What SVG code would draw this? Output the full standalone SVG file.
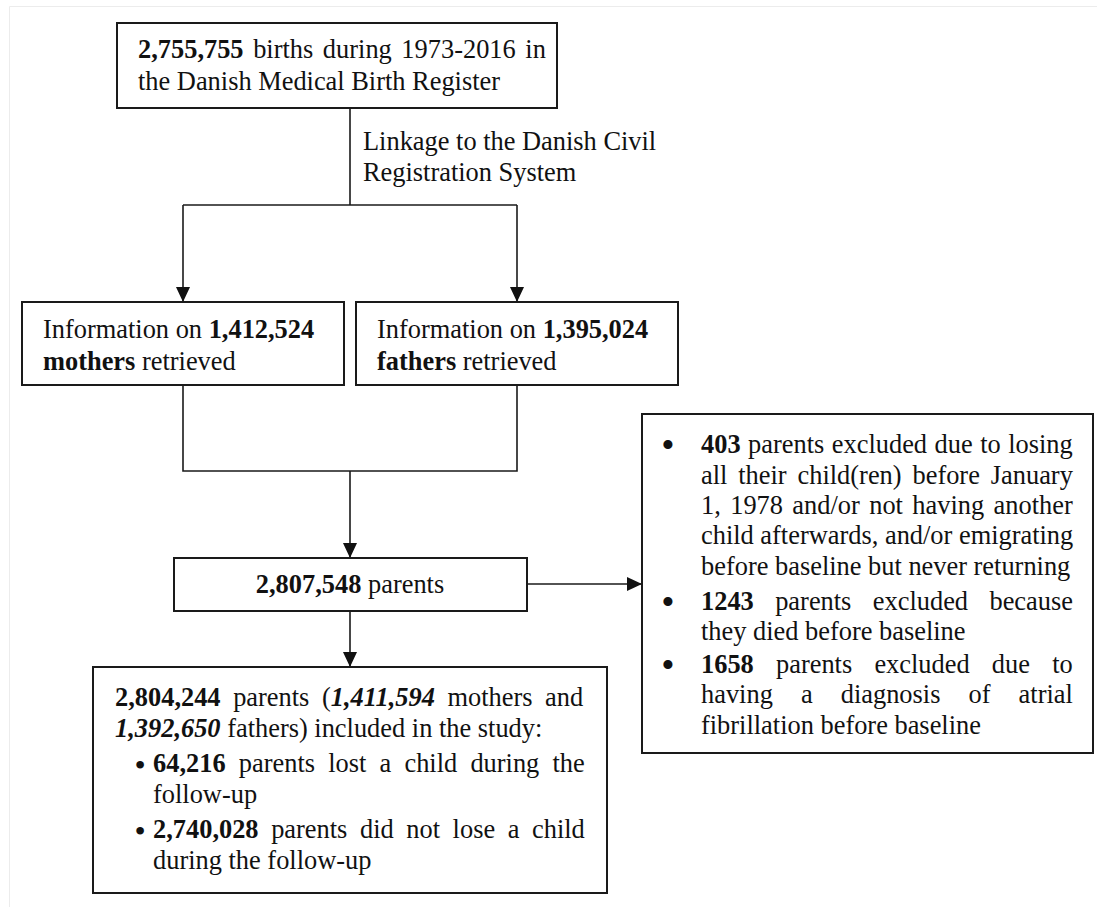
<svg xmlns="http://www.w3.org/2000/svg" width="1097" height="907" viewBox="0 0 1097 907">
<style>
.box{fill:#fff;stroke:#1a1a1a;stroke-width:2}
.t{font-family:"Liberation Serif","Times New Roman",serif;font-size:26.4px;fill:#111}
.b{font-weight:bold}
.bi{font-weight:bold;font-style:italic}
.bul{font-family:"Liberation Serif","Times New Roman",serif;fill:#111;text-anchor:middle}
.conn{stroke:#1a1a1a;stroke-width:1.6;fill:none}
.page{stroke:#ececec;stroke-width:1;fill:none}
</style>
<defs>
<marker id="arr" viewBox="0 0 15 14" refX="15" refY="7" markerWidth="15" markerHeight="14" markerUnits="userSpaceOnUse" orient="auto">
<path d="M0,0 L15,7 L0,14 z" fill="#111"/>
</marker>
</defs>
<rect width="1097" height="907" fill="#fff"/>
<path class="page" d="M9.5,907 V6.5 H1097"/>

<g id="connectors">
<path class="conn" d="M350,108 V205"/>
<path class="conn" d="M183,205 H517"/>
<path class="conn" d="M183,205 V302" marker-end="url(#arr)"/>
<path class="conn" d="M517,205 V302" marker-end="url(#arr)"/>
<path class="conn" d="M183,385 V471 H517 V385"/>
<path class="conn" d="M350,471 V558" marker-end="url(#arr)"/>
<path class="conn" d="M527,584 H642" marker-end="url(#arr)"/>
<path class="conn" d="M350,611 V667" marker-end="url(#arr)"/>
</g>

<g id="births">
<rect class="box" x="117" y="23" width="440" height="85"/>
<text class="t" x="138" y="58" word-spacing="3"><tspan class="b">2,755,755</tspan> births during 1973-2016 in</text>
<text class="t" x="138" y="90">the Danish Medical Birth Register</text>
</g>

<g id="linkage-label">
<text class="t" x="363" y="150">Linkage to the Danish Civil</text>
<text class="t" x="363" y="181">Registration System</text>
</g>

<g id="mothers">
<rect class="box" x="22" y="302" width="322" height="83"/>
<text class="t" x="43" y="338">Information on <tspan class="b">1,412,524</tspan></text>
<text class="t" x="43" y="370"><tspan class="b">mothers</tspan> retrieved</text>
</g>

<g id="fathers">
<rect class="box" x="356" y="302" width="322" height="83"/>
<text class="t" x="377" y="338">Information on <tspan class="b">1,395,024</tspan></text>
<text class="t" x="377" y="370"><tspan class="b">fathers</tspan> retrieved</text>
</g>

<g id="parents">
<rect class="box" x="174" y="558" width="353" height="53"/>
<text class="t" x="350" y="593" text-anchor="middle"><tspan class="b">2,807,548</tspan> parents</text>
</g>

<g id="excluded">
<rect class="box" x="642" y="414" width="451" height="339"/>
<text class="bul" x="668" y="458" font-size="38">•</text>
<text class="t" x="701" y="453" word-spacing="0.9"><tspan class="b">403</tspan> parents excluded due to losing</text>
<text class="t" x="701" y="483.5" word-spacing="4.3">all their child(ren) before January</text>
<text class="t" x="701" y="514" word-spacing="2.8">1, 1978 and/or not having another</text>
<text class="t" x="701" y="544">child afterwards, and/or emigrating</text>
<text class="t" x="701" y="575">before baseline but never returning</text>
<text class="bul" x="668" y="615" font-size="38">•</text>
<text class="t" x="701" y="610" word-spacing="14.8"><tspan class="b">1243</tspan> parents excluded because</text>
<text class="t" x="701" y="640">they died before baseline</text>
<text class="bul" x="668" y="678" font-size="38">•</text>
<text class="t" x="701" y="673" word-spacing="15.6"><tspan class="b">1658</tspan> parents excluded due to</text>
<text class="t" x="701" y="703" word-spacing="21.5">having a diagnosis of atrial</text>
<text class="t" x="701" y="734">fibrillation before baseline</text>
</g>

<g id="included">
<rect class="box" x="93" y="667" width="514" height="226"/>
<text class="t" x="115" y="706" word-spacing="6"><tspan class="b">2,804,244</tspan> parents (<tspan class="bi">1,411,594</tspan> mothers and</text>
<text class="t" x="115" y="737"><tspan class="bi">1,392,650</tspan> fathers) included in the study:</text>
<text class="bul" x="140" y="776" font-size="32">•</text>
<text class="t" x="153" y="772" word-spacing="6.6"><tspan class="b">64,216</tspan> parents lost a child during the</text>
<text class="t" x="153" y="803">follow-up</text>
<text class="bul" x="140" y="842" font-size="32">•</text>
<text class="t" x="153" y="838" word-spacing="6"><tspan class="b">2,740,028</tspan> parents did not lose a child</text>
<text class="t" x="153" y="869">during the follow-up</text>
</g>
</svg>
